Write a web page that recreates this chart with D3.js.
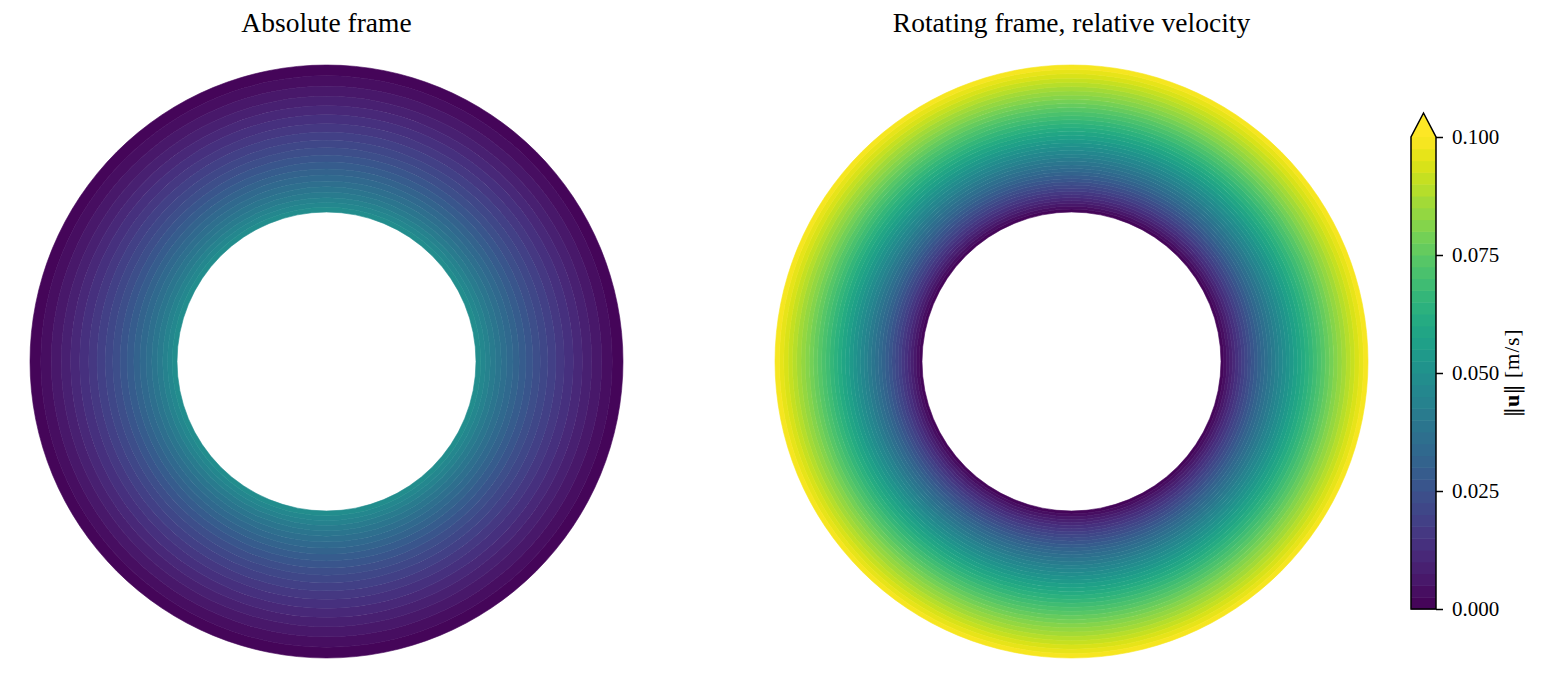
<!DOCTYPE html>
<html>
<head>
<meta charset="utf-8">
<script src="https://cdn.jsdelivr.net/npm/d3@7"></script>
<style>
    body { margin: 0; background: #fff; }
    svg text { font-family: "Liberation Serif", "DejaVu Serif", serif; fill: #000; }
</style>
</head>
<body>
<div id="chart"></div>
<script>
// radial positions (inner wall r=0.5, outer wall r=1) and speed
var radii = [0.5, 0.55, 0.6, 0.65, 0.7, 0.75, 0.8, 0.85, 0.9, 0.95, 1.0];
var absSpeed = [0.05, 0.0423, 0.0356, 0.0296, 0.0243, 0.0194, 0.0150, 0.0109, 0.0070, 0.0034, 0.0];
var relSpeed = [0.0, 0.0127, 0.0244, 0.0354, 0.0457, 0.0556, 0.0650, 0.0741, 0.0830, 0.0916, 0.1];

var panelTitles = ["Absolute frame", "Rotating frame, relative velocity"];
var cbTicks = [0, 0.025, 0.05, 0.075, 0.1];
var levelMin = 0, levelMax = 0.1, nLevels = 40;

function init() {
    var w = 1547;
    var h = 688;

    var svg = d3.select("#chart")
        .append("svg")
        .attr("width", w)
        .attr("height", h);

    var step = (levelMax - levelMin) / nLevels;
    var levels = d3.range(nLevels + 1).map(i => levelMin + i * step);

    // band colour = viridis at the middle of the band
    var color = d3.scaleSequential(d3.interpolateViridis).domain([levelMin, levelMax]);

    // data radius -> pixels
    var px = d3.scaleLinear().domain([0.5, 1.0]).range([149.5, 296.5]);

    var panels = [
        { title: panelTitles[0], speed: absSpeed, cx: 326.5, cy: 361.5 },
        { title: panelTitles[1], speed: relSpeed, cx: 1071.5, cy: 361.5 }
    ];

    var arc = d3.arc().startAngle(0).endAngle(2 * Math.PI);

    panels.forEach(function (p) {
        var g = svg.append("g").attr("transform", "translate(" + p.cx + "," + p.cy + ")");

        // speed -> radius where the profile reaches that speed
        var rAt = d3.scaleLinear().domain(p.speed).range(radii).clamp(true);
        var sMin = d3.min(p.speed), sMax = d3.max(p.speed);

        var bands = [];
        for (var i = 0; i < nLevels; i++) {
            var lo = levels[i], hi = levels[i + 1];
            if (hi <= sMin || lo >= sMax) continue;
            var r1 = rAt(Math.max(lo, sMin)), r2 = rAt(Math.min(hi, sMax));
            bands.push({ r0: Math.min(r1, r2), r1: Math.max(r1, r2), c: color((lo + hi) / 2) });
        }

        g.selectAll(".band")
            .data(bands)
            .enter()
            .append("path")
            .attr("class", "band")
            .attr("d", d => arc({ innerRadius: px(d.r0), outerRadius: px(d.r1) }))
            .attr("fill", d => d.c)
            .attr("stroke", d => d.c)
            .attr("stroke-width", 0.6);

        svg.append("text")
            .attr("x", p.cx)
            .attr("y", 32)
            .attr("text-anchor", "middle")
            .style("font-size", "27.5px")
            .text(p.title);
    });

    // Colorbar
    var cbX = 1411, cbW = 25;
    var cbY = d3.scaleLinear().domain([levelMin, levelMax]).range([609, 137]);
    var cb = svg.append("g");

    cb.selectAll(".cbband")
        .data(d3.range(nLevels))
        .enter()
        .append("rect")
        .attr("class", "cbband")
        .attr("x", cbX)
        .attr("width", cbW)
        .attr("y", i => cbY(levels[i + 1]))
        .attr("height", i => cbY(levels[i]) - cbY(levels[i + 1]) + 0.5)
        .attr("fill", i => color((levels[i] + levels[i + 1]) / 2));

    var tipY = cbY(levelMax) - 24;
    cb.append("path")
        .attr("d", "M" + cbX + "," + cbY(levelMax) + "L" + (cbX + cbW / 2) + "," + tipY +
            "L" + (cbX + cbW) + "," + cbY(levelMax) + "Z")
        .attr("fill", color(levelMax));

    cb.append("path")
        .attr("d", "M" + cbX + "," + cbY(levelMin) + "L" + cbX + "," + cbY(levelMax) +
            "L" + (cbX + cbW / 2) + "," + tipY + "L" + (cbX + cbW) + "," + cbY(levelMax) +
            "L" + (cbX + cbW) + "," + cbY(levelMin) + "Z")
        .attr("fill", "none")
        .attr("stroke", "#000")
        .attr("stroke-width", 1.5);

    var axis = cb.append("g")
        .attr("transform", "translate(" + (cbX + cbW) + ",0)")
        .call(d3.axisRight(cbY).tickValues(cbTicks).tickFormat(d3.format(".3f"))
            .tickSize(7).tickSizeOuter(0).tickPadding(9));
    axis.select(".domain").remove();
    axis.selectAll(".tick line").attr("stroke-width", 1.5);
    axis.selectAll(".tick text")
        .attr("font-family", null)
        .style("font-size", "21px");

    var lab = svg.append("text")
        .attr("transform", "translate(1519," + cbY((levelMin + levelMax) / 2) + ") rotate(-90)")
        .attr("text-anchor", "middle")
        .style("font-size", "21px");
    lab.append("tspan").style("font-family", "DejaVu Serif").style("font-weight", "normal").text("\u2016");
    lab.append("tspan").attr("font-weight", "bold").style("font-size", "22px").text("u");
    lab.append("tspan").style("font-family", "DejaVu Serif").text("\u2016");
    lab.append("tspan").text(" [m/s]").style("letter-spacing", "1px");
}

window.onload = init;
</script>
</body>
</html>
